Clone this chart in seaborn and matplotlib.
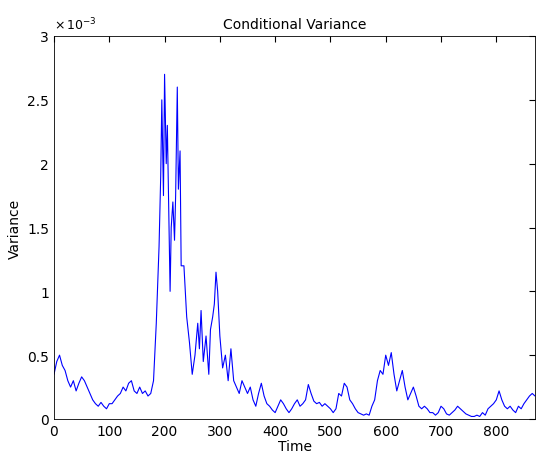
import matplotlib
matplotlib.use("Agg")
import matplotlib.pyplot as plt
import seaborn as sns
import pandas as pd

sns.set_style("white")
plt.rcParams['font.family'] = ['DejaVu Sans']
plt.rcParams['font.size'] = 10
plt.rcParams['text.color'] = 'black'
plt.rcParams['axes.labelcolor'] = 'black'
plt.rcParams['xtick.color'] = 'black'
plt.rcParams['ytick.color'] = 'black'

# time index and conditional variance (in units of 1e-3)
time = [0, 5, 10, 15, 20, 25, 30, 35, 40, 45, 50,
        55, 60, 65, 70, 75, 80, 85, 90, 95, 100,
        105, 110, 115, 120, 125, 130, 135, 140, 145, 150,
        155, 160, 165, 170, 175, 180, 185,
        190, 193, 195, 198, 200, 203, 205, 208, 210, 212, 215, 218, 220, 223, 225, 228, 230,
        235, 240, 245, 250, 255, 260, 263, 266, 270, 275, 280, 283, 287, 290, 293, 296,
        300, 305, 310, 315, 320, 325, 330, 335, 340, 345, 350, 355, 360, 365, 370, 375,
        380, 385, 390, 395, 400, 405, 410, 415, 420, 425, 430, 435, 440, 445, 450, 455,
        460, 465, 470, 475, 480, 485, 490, 495, 500, 505, 510, 515, 520, 525, 530, 535,
        540, 545, 550, 555, 560, 565, 570, 575, 580, 585, 590, 595, 600, 605, 610, 615,
        620, 625, 630, 635, 640, 645, 650, 655, 660, 665, 670, 675, 680, 685, 690, 695,
        700, 705, 710, 715, 720, 725, 730, 735, 740, 745, 750, 755, 760, 765, 770, 775,
        780, 785, 790, 795, 800, 805, 810, 815, 820, 825, 830, 835, 840, 845, 850, 855,
        860, 865, 870]
variance = [0.35, 0.45, 0.5, 0.42, 0.38, 0.3, 0.25, 0.3, 0.22, 0.28, 0.33,
            0.3, 0.25, 0.2, 0.15, 0.12, 0.1, 0.13, 0.1, 0.08, 0.12,
            0.12, 0.15, 0.18, 0.2, 0.25, 0.22, 0.28, 0.3, 0.22, 0.2,
            0.25, 0.2, 0.22, 0.18, 0.2, 0.3, 0.75,
            1.35, 1.9, 2.5, 1.75, 2.7, 2.0, 2.3, 1.5, 1.0, 1.5, 1.7, 1.4, 1.75, 2.6, 1.8, 2.1, 1.2,
            1.2, 0.8, 0.6, 0.35, 0.5, 0.75, 0.55, 0.85, 0.45, 0.65, 0.35, 0.7, 0.8, 0.9, 1.15, 1.0,
            0.65, 0.4, 0.5, 0.3, 0.55, 0.3, 0.25, 0.2, 0.3, 0.25, 0.2, 0.25, 0.15, 0.1, 0.2, 0.28,
            0.18, 0.12, 0.1, 0.07, 0.05, 0.1, 0.15, 0.12, 0.08, 0.05, 0.08, 0.12, 0.15, 0.1, 0.12, 0.15,
            0.27, 0.2, 0.14, 0.12, 0.13, 0.1, 0.12, 0.1, 0.08, 0.05, 0.08, 0.2, 0.18, 0.28, 0.25, 0.15,
            0.12, 0.08, 0.05, 0.04, 0.03, 0.04, 0.03, 0.1, 0.15, 0.3, 0.38, 0.35, 0.5, 0.42, 0.52, 0.35,
            0.22, 0.3, 0.38, 0.25, 0.15, 0.2, 0.25, 0.18, 0.1, 0.08, 0.1, 0.08, 0.05, 0.05, 0.03, 0.05,
            0.1, 0.08, 0.04, 0.03, 0.05, 0.07, 0.1, 0.08, 0.06, 0.04, 0.03, 0.02, 0.02, 0.03, 0.02, 0.05,
            0.03, 0.08, 0.1, 0.12, 0.15, 0.22, 0.15, 0.1, 0.08, 0.1, 0.07, 0.05, 0.1, 0.08, 0.12, 0.15,
            0.18, 0.2, 0.18]

df = pd.DataFrame({"Time": time, "Variance": [v * 1e-3 for v in variance]})

fig = plt.figure(figsize=(5.36, 4.56), dpi=100)
ax = fig.add_axes([54 / 536, 36 / 456, (535 - 54) / 536, (420 - 37) / 456])
sns.lineplot(data=df, x="Time", y="Variance", ax=ax, color="#0000ff", linewidth=0.8)

ax.set_xlim(0, 870)
ax.set_ylim(0, 3e-3)
ax.set_xticks(range(0, 900, 100))
ax.set_yticks([0, 0.5e-3, 1e-3, 1.5e-3, 2e-3, 2.5e-3, 3e-3])
ax.set_yticklabels(["0", "0.5", "1", "1.5", "2", "2.5", "3"])
ax.tick_params(direction="in", length=4, top=True, right=True, labelsize=10)
for s in ax.spines.values():
    s.set_color("black")
    s.set_linewidth(0.6)
ax.text(0, 1.01, r"$\times\,10^{-3}$", transform=ax.transAxes, fontsize=9, va="bottom")
ax.set_title("Conditional Variance", fontsize=10, pad=6)
ax.set_xlabel("Time", labelpad=1)
ax.set_ylabel("Variance")

fig.savefig("out.png", dpi=100)
